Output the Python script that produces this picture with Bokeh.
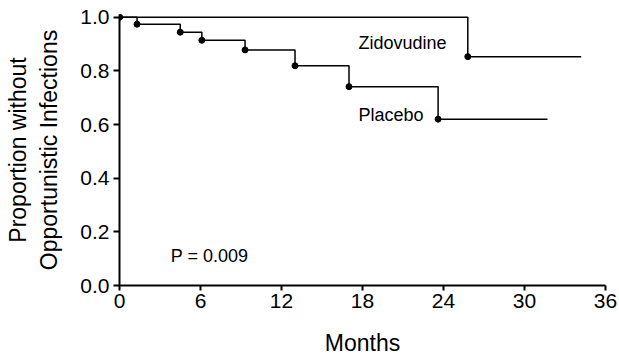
from bokeh.plotting import figure
from bokeh.models import Range1d, FixedTicker, Label, NumeralTickFormatter
from bokeh.embed import file_html
from bokeh.resources import INLINE

# Data (Kaplan-Meier curves)
months_placebo = [0, 1.3, 4.5, 6.1, 9.3, 13.0, 17.0, 23.6, 31.7]
surv_placebo = [1.0, 0.974, 0.944, 0.914, 0.878, 0.819, 0.741, 0.620, 0.620]
months_zdv = [0, 25.8, 34.2]
surv_zdv = [1.0, 0.853, 0.853]
x_ticks = [0, 6, 12, 18, 24, 30, 36]
y_ticks = [0.0, 0.2, 0.4, 0.6, 0.8, 1.0]
series_names = ["Zidovudine", "Placebo"]
p_value_text = "P = 0.009"

FONT = "Liberation Sans"

p = figure(width=619, height=358, x_range=Range1d(0, 36), y_range=Range1d(0, 1.01),
           output_backend="svg", toolbar_location=None,
           min_border_left=119, min_border_right=14, min_border_top=14, min_border_bottom=72)

p.step(months_placebo, surv_placebo, mode="after", line_color="black", line_width=1.5)
p.scatter(months_placebo[:-1], surv_placebo[:-1], size=6, color="black")
p.step(months_zdv, surv_zdv, mode="after", line_color="black", line_width=1.5)
p.scatter(months_zdv[:-1], surv_zdv[:-1], size=6, color="black")

p.add_layout(Label(x=17.7, y=0.902, text=series_names[0], text_font=FONT,
                   text_font_size="18px", text_baseline="alphabetic", text_color="black"))
p.add_layout(Label(x=17.7, y=0.636, text=series_names[1], text_font=FONT,
                   text_font_size="18px", text_baseline="alphabetic", text_color="black"))
p.add_layout(Label(x=3.8, y=0.109, text=p_value_text, text_font=FONT,
                   text_font_size="18px", text_baseline="alphabetic", text_color="black"))

p.grid.visible = False
p.outline_line_color = None
p.background_fill_color = "white"

for ax in (p.xaxis, p.yaxis):
    ax.axis_line_width = 2
    ax.axis_line_color = "black"
    ax.major_tick_line_width = 2
    ax.major_tick_line_color = "black"
    ax.minor_tick_line_color = None
    ax.major_tick_in = 0
    ax.major_label_text_font = FONT
    ax.major_label_text_font_size = "21px"
    ax.major_label_text_color = "black"
    ax.axis_label_text_font = FONT
    ax.axis_label_text_font_size = "23px"
    ax.axis_label_text_font_style = "normal"
    ax.axis_label_text_color = "black"

p.xaxis.ticker = FixedTicker(ticks=x_ticks)
p.yaxis.ticker = FixedTicker(ticks=y_ticks)
p.yaxis.formatter = NumeralTickFormatter(format="0.0")
p.xaxis.major_tick_out = 5
p.yaxis.major_tick_out = 6
p.xaxis.major_label_standoff = 3
p.yaxis.major_label_standoff = 4
p.xaxis.axis_label = "Months"
p.yaxis.axis_label = "Proportion without\nOpportunistic Infections"
p.xaxis.axis_label_standoff = 19
p.yaxis.axis_label_standoff = 15

open("out.html", "w").write(file_html(p, INLINE))
